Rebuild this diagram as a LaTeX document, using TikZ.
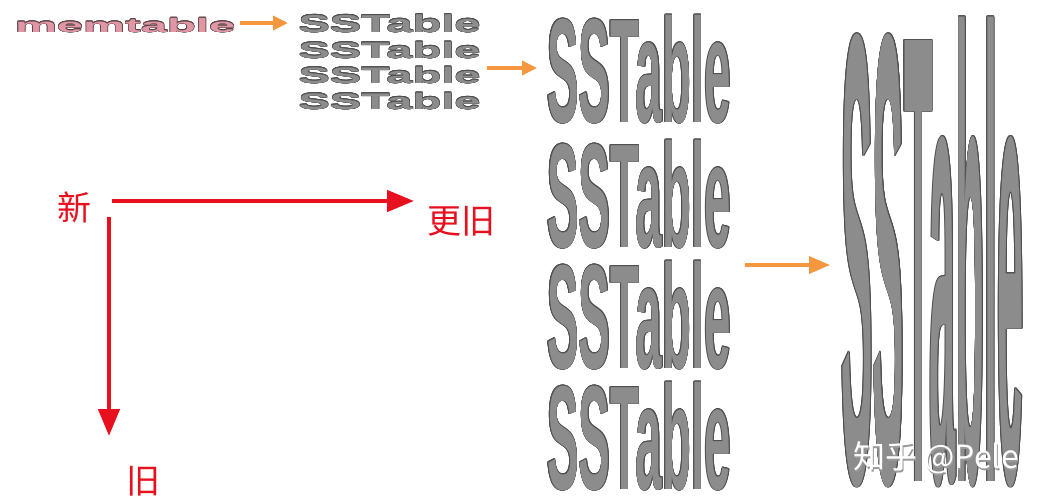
\documentclass[tikz,border=0pt]{standalone}
\usepackage{fontspec}
\usepackage[copies]{contour}
\usetikzlibrary{arrows.meta}
\newfontfamily\cjk{Noto Sans CJK SC}
\newfontfamily\wa{Liberation Sans}
\definecolor{ssfill}{HTML}{8C8C8C}
\definecolor{ssline}{HTML}{505050}
\definecolor{memfill}{HTML}{E096A4}
\definecolor{memline}{HTML}{5A4448}
\definecolor{arrorange}{HTML}{F5973F}
\definecolor{arrred}{HTML}{E8101F}
\definecolor{wmshadow}{HTML}{9A9A9A}
\contournumber{12}
% #1 size, #2 stretch, #3 contour length, #4 fill, #5 outline, #6 text
\newcommand{\wart}[6]{{\wa\bfseries\fontsize{#1pt}{#1pt}\selectfont\addfontfeatures{FakeStretch=#2}\contourlength{#3pt}\textcolor{#4}{\contour{#5}{#6}}}}
\begin{document}
\begin{tikzpicture}[x=1pt,y=-1pt,
  art/.style={inner sep=0pt,outer sep=0pt,anchor=base west},
  oarrow/.style={draw=arrorange,line width=3.4pt,-{Triangle[length=15pt,width=14pt]}},
  bigoarrow/.style={draw=arrorange,line width=3.4pt,-{Triangle[length=21pt,width=17pt]}},
  rarrow/.style={draw=arrred,line width=4.5pt,-{Triangle[length=27pt,width=21pt]}},
  redlabel/.style={inner sep=0pt,text=arrred,font=\cjk\fontsize{34pt}{34pt}\selectfont},
  wmark/.style={inner sep=0pt,font=\cjk\fontsize{32pt}{32pt}\selectfont}]
\useasboundingbox (0,0) rectangle (1039,498);
\fill[white] (0,0) rectangle (1039,498);

% memtable
\node[art] (mem) at (15,32) {\wart{19.5}{2.42}{0.6}{memfill}{memline}{memtable}};

% small SSTables
\node[art] (s1) at (298.5,32) {\wart{24.5}{1.92}{0.5}{ssfill}{ssline}{SSTable}};
\node[art] (s2) at (298.5,58) {\wart{22.5}{2.09}{0.5}{ssfill}{ssline}{SSTable}};
\node[art] (s3) at (298.5,83) {\wart{22.5}{2.09}{0.5}{ssfill}{ssline}{SSTable}};
\node[art] (s4) at (298.5,109) {\wart{22.5}{2.09}{0.5}{ssfill}{ssline}{SSTable}};

% big SSTables
\node[art] (b1) at (547,122) {\wart{148}{0.321}{0.6}{ssfill}{ssline}{SSTable}};
\node[art] (b2) at (547,247) {\wart{148}{0.321}{0.6}{ssfill}{ssline}{SSTable}};
\node[art] (b3) at (547,368) {\wart{148}{0.321}{0.6}{ssfill}{ssline}{SSTable}};
\node[art] (b4) at (547,489) {\wart{148}{0.321}{0.6}{ssfill}{ssline}{SSTable}};

% giant SSTable
\node[art] (g) at (841.5,481) {\wart{641}{0.0734}{0.6}{ssfill}{ssline}{SSTable}};

% orange arrows
\coordinate (a1s) at (240,23);
\coordinate (a1e) at (288,23);
\draw[oarrow] (a1s) -- (a1e);
\coordinate (a2s) at (487,68);
\coordinate (a2e) at (537,68);
\draw[oarrow] (a2s) -- (a2e);
\coordinate (a3s) at (745,265);
\coordinate (a3e) at (830,265);
\draw[bigoarrow] (a3s) -- (a3e);

% red axes
\node[redlabel] (new) at (74,207) {新};
\node[redlabel] (older) at (461,221) {更旧};
\node[redlabel] (old) at (143,481) {旧};
\coordinate (hs) at (112,201);
\coordinate (he) at (414,201);
\coordinate (vs) at (109,217);
\coordinate (ve) at (109,436);
\draw[rarrow] (hs) -- (he);
\draw[rarrow] (vs) -- (ve);

% watermark
\node[wmark,text=wmshadow] at (937,459.5) {知乎 @Pele};
\node[wmark,text=white] (wm) at (936,458) {知乎 @Pele};
\end{tikzpicture}
\end{document}
